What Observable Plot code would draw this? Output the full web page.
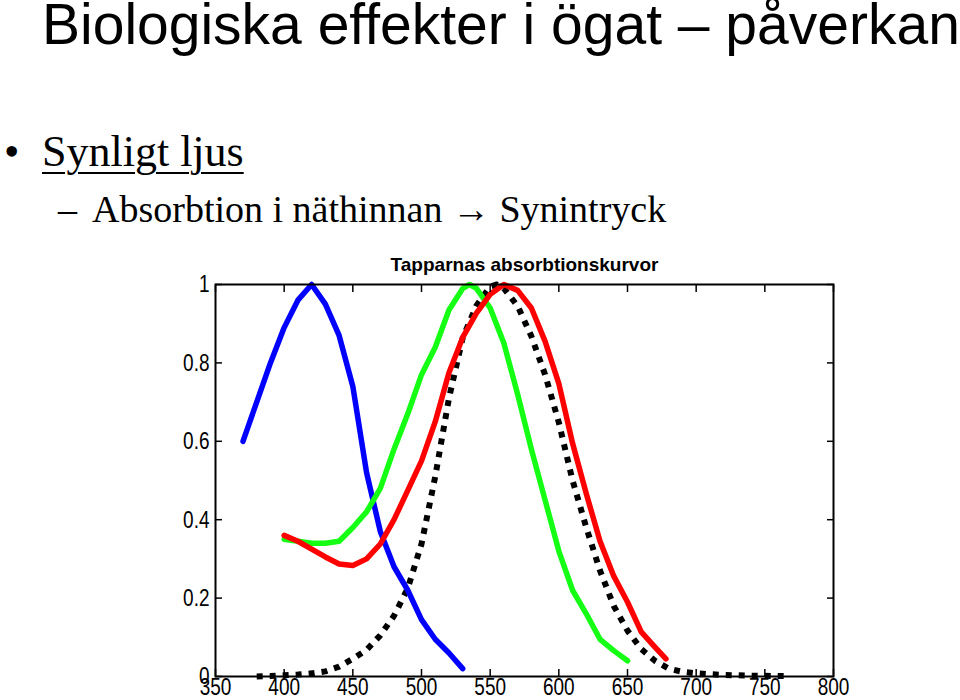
<!DOCTYPE html>
<html>
<head>
<meta charset="utf-8">
<script src="https://cdn.jsdelivr.net/npm/d3@7"></script>
<script src="https://cdn.jsdelivr.net/npm/@observablehq/plot@0.6"></script>
<style>
  html, body { margin: 0; padding: 0; background: #fff; }
  #page { position: relative; width: 960px; height: 700px; overflow: hidden; background: #fff; }
  .t { position: absolute; white-space: nowrap; line-height: 1; color: #000; }
  #h1 { left: 42px; top: -4px; font-family: "Liberation Sans", Arial, sans-serif; font-size: 57px; }
  #bullet { left: 4px; top: 130px; font-family: "Liberation Serif", serif; font-size: 44px; }
  #b1 { left: 42px; top: 130px; font-family: "Liberation Serif", serif; font-size: 44px; text-decoration: underline; text-decoration-thickness: 2px; text-underline-offset: 6px; }
  #dash { left: 58px; top: 190px; font-family: "Liberation Serif", serif; font-size: 38px; }
  #b2 { left: 92px; top: 190px; font-family: "Liberation Serif", serif; font-size: 38px; }
  #chart { position: absolute; left: 0; top: 240px; }
</style>
</head>
<body>
<div id="page">
  <div class="t" id="h1">Biologiska effekter i ögat – påverkan</div>
  <div class="t" id="bullet">•</div>
  <div class="t" id="b1">Synligt ljus</div>
  <div class="t" id="dash">–</div>
  <div class="t" id="b2">Absorbtion i näthinnan → Synintryck</div>
  <div id="chart"></div>
</div>
<script>
const chartTitle = "Tapparnas absorbtionskurvor";
const xTicks = [350, 400, 450, 500, 550, 600, 650, 700, 750, 800];
const yTicks = [0, 0.2, 0.4, 0.6, 0.8, 1];

// S-cone (blue)
const blueWl = [370, 380, 390, 400, 410, 420, 430, 440, 450, 460, 470, 480, 490, 500, 510, 520, 530];
const blueAbs = [0.60, 0.70, 0.80, 0.89, 0.96, 1.00, 0.95, 0.87, 0.74, 0.52, 0.37, 0.28, 0.22, 0.145, 0.095, 0.06, 0.02];

// M-cone (green)
const greenWl = [400, 410, 420, 430, 440, 450, 460, 470, 480, 490, 500, 510, 520, 530, 535, 540, 550, 560, 570, 580, 590, 600, 610, 620, 630, 640, 650];
const greenAbs = [0.35, 0.345, 0.34, 0.34, 0.345, 0.38, 0.42, 0.48, 0.58, 0.67, 0.77, 0.84, 0.935, 0.99, 1.00, 0.99, 0.94, 0.85, 0.72, 0.58, 0.45, 0.32, 0.22, 0.16, 0.095, 0.066, 0.04];

// L-cone (red)
const redWl = [400, 410, 420, 430, 440, 450, 460, 470, 480, 490, 500, 510, 520, 530, 540, 550, 560, 570, 580, 590, 600, 610, 620, 630, 640, 650, 660, 670, 678];
const redAbs = [0.36, 0.345, 0.325, 0.305, 0.287, 0.283, 0.30, 0.338, 0.40, 0.475, 0.55, 0.65, 0.775, 0.865, 0.927, 0.975, 1.00, 0.985, 0.94, 0.855, 0.747, 0.595, 0.466, 0.345, 0.256, 0.19, 0.114, 0.075, 0.045];

// Luminosity curve (black dotted)
const blackWl = [380, 390, 400, 410, 420, 430, 440, 450, 460, 470, 480, 490, 500, 510, 520, 530, 540, 550, 555, 560, 570, 580, 590, 600, 610, 620, 630, 640, 650, 660, 670, 680, 690, 700, 710, 720, 730, 740, 750, 760, 768];
const blackAbs = [0.0, 0.001, 0.003, 0.005, 0.008, 0.013, 0.025, 0.045, 0.068, 0.105, 0.155, 0.225, 0.338, 0.51, 0.71, 0.864, 0.946, 0.995, 1.00, 0.99, 0.945, 0.868, 0.77, 0.648, 0.50, 0.38, 0.27, 0.18, 0.117, 0.07, 0.04, 0.02, 0.012, 0.008, 0.006, 0.004, 0.003, 0.002, 0.002, 0.001, 0.001];

const toRows = (wl, a) => wl.map((w, i) => ({wl: w, a: a[i]}));
const blue = toRows(blueWl, blueAbs);
const green = toRows(greenWl, greenAbs);
const red = toRows(redWl, redAbs);
const black = toRows(blackWl, blackAbs);

const fmt = d => String(d);

const chart = Plot.plot({
  width: 960,
  height: 460,
  marginLeft: 215,
  marginRight: 127,
  marginTop: 44,
  marginBottom: 24,
  style: {fontFamily: "'Liberation Sans', Arial, sans-serif", fontSize: "19px", background: "transparent", color: "#000"},
  x: {domain: [350, 800]},
  y: {domain: [0, 1]},
  marks: [
    Plot.line(black, {x: "wl", y: "a", stroke: "#000", strokeWidth: 6, strokeDasharray: "6,7", strokeLinecap: "butt"}),
    Plot.line(blue, {x: "wl", y: "a", stroke: "#0000ff", strokeWidth: 5.5}),
    Plot.line(green, {x: "wl", y: "a", stroke: "#14ff14", strokeWidth: 5.5}),
    Plot.line(red, {x: "wl", y: "a", stroke: "#ff0000", strokeWidth: 5.5}),
    Plot.axisX({anchor: "bottom", ticks: xTicks, tickSize: 0, tickPadding: 1, label: null, tickFormat: fmt, fontSize: 19}),
    Plot.axisY({anchor: "left", ticks: yTicks, tickSize: 0, tickPadding: 6, label: null, tickFormat: fmt, fontSize: 19}),
    Plot.axisX({anchor: "bottom", ticks: xTicks, tickSize: -7, tickFormat: () => "", label: null, strokeWidth: 1.5}),
    Plot.axisX({anchor: "top", ticks: xTicks, tickSize: -7, tickFormat: () => "", label: null, strokeWidth: 1.5}),
    Plot.axisY({anchor: "left", ticks: yTicks, tickSize: -7, tickFormat: () => "", label: null, strokeWidth: 1.5}),
    Plot.axisY({anchor: "right", ticks: yTicks, tickSize: -7, tickFormat: () => "", label: null, strokeWidth: 1.5}),
    Plot.frame({stroke: "#000", strokeWidth: 2}),
    Plot.text([chartTitle], {frameAnchor: "top", dy: -27, fontWeight: "bold", fontSize: 19, fill: "#000"})
  ]
});
// stretch tick labels vertically (the source image is vertically stretched)
d3.select(chart).selectAll('g[aria-label="x-axis tick label"] text, g[aria-label="y-axis tick label"] text').each(function () {
  const t = this.getAttribute("transform") || "";
  this.setAttribute("transform", t + " scale(1,1.3)");
});
document.getElementById("chart").appendChild(chart);
</script>
</body>
</html>
